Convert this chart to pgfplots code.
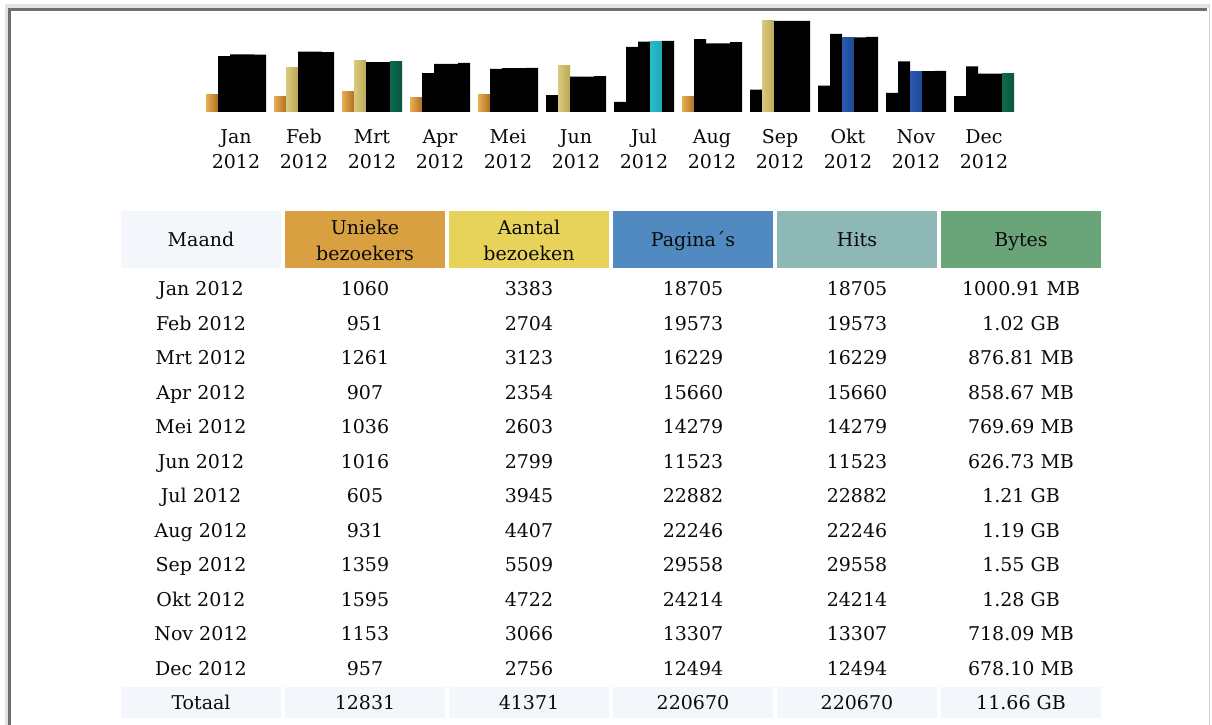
\documentclass[border=0pt]{standalone}
\usepackage{pgfplots}
\pgfplotsset{compat=1.18}
\usepackage{fontspec}
\setmainfont{DejaVu Serif}
\definecolor{hdrM}{HTML}{F3F7FB}
\definecolor{hdrU}{HTML}{D9A041}
\definecolor{hdrA}{HTML}{E7D359}
\definecolor{hdrP}{HTML}{508AC0}
\definecolor{hdrH}{HTML}{8EB8B6}
\definecolor{hdrB}{HTML}{6AA479}
\definecolor{txt}{HTML}{0A0A0A}
\definecolor{frameD}{HTML}{6E6E6E}
\definecolor{frameL}{HTML}{E0E4E8}
\definecolor{oL}{HTML}{EAAE52}\definecolor{oM}{HTML}{FCD07C}\definecolor{oR}{HTML}{B07026}
\definecolor{yL}{HTML}{D8CA7E}\definecolor{yM}{HTML}{F5EDA2}\definecolor{yR}{HTML}{BCA954}
\definecolor{bL}{HTML}{2C58B0}\definecolor{bM}{HTML}{74A6FA}\definecolor{bR}{HTML}{1E4A98}
\definecolor{cL}{HTML}{28BCCC}\definecolor{cM}{HTML}{7CF2FA}\definecolor{cR}{HTML}{1EA8B8}
\definecolor{gL}{HTML}{0E6A4E}\definecolor{gM}{HTML}{34A882}\definecolor{gR}{HTML}{0A5640}
\newcommand\tf{\fontsize{19}{24}\selectfont}
\newcommand\lf{\fontsize{19}{25}\selectfont}
\pgfplotsset{
  barax/.style={at={(236pt,613pt)}, anchor=origin, scale only axis,
    width=816pt, height=91pt, xmin=-0.5, xmax=11.5, ymin=0, clip=false},
  bb/.style={ybar, bar width=12pt, draw=none},
  ob/.style={bb, bar shift=-24pt, left color=oL, middle color=oM, right color=oR},
  yb/.style={bb, bar shift=-12pt, left color=yL, middle color=yM, right color=yR},
  pb/.style={bb, bar shift=0pt, left color=bL, middle color=bM, right color=bR},
  cb/.style={bb, bar shift=12pt, left color=cL, middle color=cM, right color=cR},
  gb/.style={bb, bar shift=24pt, left color=gL, middle color=gM, right color=gR},
  blk/.style={bb, fill=black},
}
\begin{document}
\begin{tikzpicture}[font=\tf]
\begin{scope}[x=1pt,y=1pt]
\fill[white] (0,0) rectangle (1212,725);
\fill[frameL] (5,0) rectangle (8,721);
\fill[frameL] (5,717) rectangle (1210,721);
\fill[frameD] (8,0) rectangle (11,717);
\fill[frameD] (8,714) rectangle (1207,717);
\fill[gray!35] (1208.5,0) rectangle (1210,721);
% header
\foreach \c [count=\j from 0] in {hdrM,hdrU,hdrA,hdrP,hdrH,hdrB}{
  \fill[\c] ({121+164*\j},457) rectangle ({281+164*\j},514);
  \fill[hdrM] ({121+164*\j},7) rectangle ({281+164*\j},38);
}
\node[anchor=base,text=txt] at (201,478) {Maand};
\node[anchor=base,text=txt] at (365,490) {Unieke};
\node[anchor=base,text=txt] at (365,464) {bezoekers};
\node[anchor=base,text=txt] at (529,490) {Aantal};
\node[anchor=base,text=txt] at (529,464) {bezoeken};
\node[anchor=base,text=txt] at (693,478) {Pagina´s};
\node[anchor=base,text=txt] at (857,478) {Hits};
\node[anchor=base,text=txt] at (1021,478) {Bytes};
\foreach \m/\a/\b/\c/\d/\e [count=\k from 0] in {
 Jan 2012/1060/3383/18705/18705/1000.91 MB,
 Feb 2012/951/2704/19573/19573/1.02 GB,
 Mrt 2012/1261/3123/16229/16229/876.81 MB,
 Apr 2012/907/2354/15660/15660/858.67 MB,
 Mei 2012/1036/2603/14279/14279/769.69 MB,
 Jun 2012/1016/2799/11523/11523/626.73 MB,
 Jul 2012/605/3945/22882/22882/1.21 GB,
 Aug 2012/931/4407/22246/22246/1.19 GB,
 Sep 2012/1359/5509/29558/29558/1.55 GB,
 Okt 2012/1595/4722/24214/24214/1.28 GB,
 Nov 2012/1153/3066/13307/13307/718.09 MB,
 Dec 2012/957/2756/12494/12494/678.10 MB,
 Totaal/12831/41371/220670/220670/11.66 GB}{
  \node[anchor=base,text=txt] at (201,{429-34.5*\k}) {\m};
  \node[anchor=base,text=txt] at (365,{429-34.5*\k}) {\a};
  \node[anchor=base,text=txt] at (529,{429-34.5*\k}) {\b};
  \node[anchor=base,text=txt] at (693,{429-34.5*\k}) {\c};
  \node[anchor=base,text=txt] at (857,{429-34.5*\k}) {\d};
  \node[anchor=base,text=txt] at (1021,{429-34.5*\k}) {\e};
}
\end{scope}
% visitors and visits
\begin{axis}[barax, ymax=5509,
  axis line style={draw=none}, ytick=\empty, xtick={0,...,11}, major tick length=0pt,
  xticklabels={{Jan\\2012},{Feb\\2012},{Mrt\\2012},{Apr\\2012},{Mei\\2012},{Jun\\2012},{Jul\\2012},{Aug\\2012},{Sep\\2012},{Okt\\2012},{Nov\\2012},{Dec\\2012}},
  xticklabel style={font=\lf, align=center, text=txt, anchor=north, yshift=-14pt}]
\addplot[ob] coordinates {(0,1060)};
\addplot[ob] coordinates {(1,951)};
\addplot[ob] coordinates {(2,1261)};
\addplot[ob] coordinates {(3,907)};
\addplot[ob] coordinates {(4,1036)};
\addplot[ob] coordinates {(7,931)};
\addplot[blk, bar shift=-24pt] coordinates {(5,1016)(6,605)(8,1359)(9,1595)(10,1153)(11,957)};
\addplot[yb] coordinates {(1,2704)};
\addplot[yb] coordinates {(2,3123)};
\addplot[yb] coordinates {(5,2799)};
\addplot[yb] coordinates {(8,5509)};
\addplot[blk, bar shift=-12pt] coordinates {(0,3383)(3,2354)(4,2603)(6,3945)(7,4407)(9,4722)(10,3066)(11,2756)};
\end{axis}
% pages and hits
\begin{axis}[barax, ymax=29558, hide axis]
\addplot[pb] coordinates {(9,24214)};
\addplot[pb] coordinates {(10,13307)};
\addplot[blk, bar shift=0pt] coordinates {(0,18705)(1,19573)(2,16229)(3,15660)(4,14279)(5,11523)(6,22882)(7,22246)(8,29558)(11,12494)};
\addplot[cb] coordinates {(6,22882)};
\addplot[blk, bar shift=12pt] coordinates {(0,18705)(1,19573)(2,16229)(3,15660)(4,14279)(5,11523)(7,22246)(8,29558)(9,24214)(10,13307)(11,12494)};
\end{axis}
% bytes (MB)
\begin{axis}[barax, ymax=1587.2, hide axis]
\addplot[gb] coordinates {(2,876.81)};
\addplot[gb] coordinates {(11,678.10)};
\addplot[blk, bar shift=24pt] coordinates {(0,1000.91)(1,1044.48)(3,858.67)(4,769.69)(5,626.73)(6,1239.04)(7,1218.56)(8,1587.2)(9,1310.72)(10,718.09)};
\end{axis}
\end{tikzpicture}
\end{document}
